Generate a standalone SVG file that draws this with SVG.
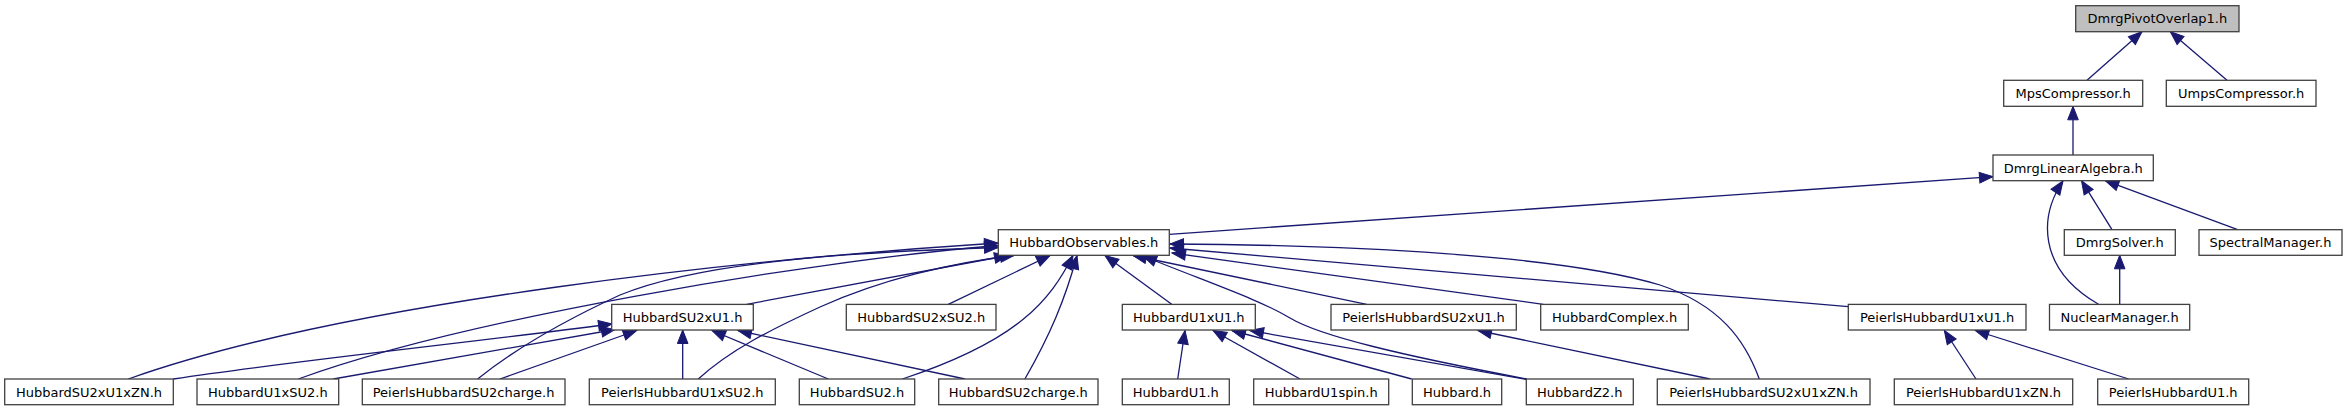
<svg xmlns="http://www.w3.org/2000/svg" width="2347" height="411" viewBox="0 0 2347 411">
<style>
.node rect{fill:#ffffff;stroke:#404040;stroke-width:1.3}
.node.root rect{fill:#bfbfbf}
.node text{font-family:"DejaVu Sans","Liberation Sans",sans-serif;font-size:13px;fill:#000000;text-anchor:middle}
.edges path{fill:none;stroke:#191970;stroke-width:1.3;marker-end:url(#arr)}
</style>
<defs>
<marker id="arr" markerUnits="userSpaceOnUse" viewBox="-14 -6 15 12" refX="0" refY="0" markerWidth="15" markerHeight="12" orient="auto" overflow="visible">
<polygon points="-13.5,-5.3 0,0 -13.5,5.3" fill="#191970" stroke="#191970" stroke-width="1"/>
</marker>
</defs>
<rect width="2347" height="411" fill="#ffffff"/>
<g class="edges">
<path d="M2087,80.3 L2142,31.7"/>
<path d="M2227,80.3 L2170.3,31.7"/>
<path d="M2073,155 L2073,106.3"/>
<path d="M1169.3,234.3 L1993,176.7"/>
<path d="M2112,229.7 L2081.5,180.7"/>
<path d="M2237.7,229.7 L2105.3,180.7"/>
<path d="M2098.5,304.3 C2036,268 2040,215 2063,181"/>
<path d="M2119.7,304.3 L2119.7,255.3"/>
<path d="M128.3,379 C350,300 760,258 998,243"/>
<path d="M298.3,379 C460,320 800,262 998,245.5"/>
<path d="M477.6,379 C520,345 570,318 620,295 C700,262 850,252 998,247.5"/>
<path d="M746.7,304.3 L1008,255.5"/>
<path d="M698.3,379 C730,350 770,330 820,307 C880,280 950,263 1014,255.5"/>
<path d="M948.3,304.3 L1050,255.5"/>
<path d="M902.4,379 C1020,340 1050,300 1073,255.5"/>
<path d="M1024.9,379 C1050,335 1065,300 1077,255.5"/>
<path d="M1171.7,304.3 L1105,255.5"/>
<path d="M1526.7,379 C1400,355 1320,336 1290,318 C1260,300 1215,285 1143,256"/>
<path d="M1366.7,304.3 L1133,255.5"/>
<path d="M1543.3,304.3 L1172,253"/>
<path d="M1759.3,379 C1745,340 1720,305 1660,285 C1560,255 1350,245 1170,244"/>
<path d="M1848.3,306.7 L1170,248"/>
<path d="M173.3,379 C300,360 450,345 612,324"/>
<path d="M333.3,379 L615,329.5"/>
<path d="M500,379 L636.7,330.5"/>
<path d="M682.7,379 L682.7,330"/>
<path d="M828.3,379 L712,330.5"/>
<path d="M965,379 L738,330.5"/>
<path d="M1177.7,379 L1185,330.5"/>
<path d="M1300,379 L1213,330.5"/>
<path d="M1411.7,379 L1232,330.5"/>
<path d="M1526.7,379.5 L1250,330.5"/>
<path d="M1710,379 L1478,330.5"/>
<path d="M1976,379 L1944.3,330.5"/>
<path d="M2128.7,379 L1975.3,330.5"/>
</g>
<g id="n_DmrgPivotOverlap1" class="node root"><rect x="2075.7" y="5.7" width="163.3" height="26"/><text x="2157.4" y="23.3">DmrgPivotOverlap1.h</text></g>
<g id="n_MpsCompressor" class="node"><rect x="2003.7" y="80.3" width="139" height="26"/><text x="2073.2" y="97.9">MpsCompressor.h</text></g>
<g id="n_UmpsCompressor" class="node"><rect x="2166.3" y="80.3" width="149.7" height="26"/><text x="2241.2" y="97.9">UmpsCompressor.h</text></g>
<g id="n_DmrgLinearAlgebra" class="node"><rect x="1993" y="155" width="160.3" height="25.7"/><text x="2073.2" y="172.5">DmrgLinearAlgebra.h</text></g>
<g id="n_HubbardObservables" class="node"><rect x="998.3" y="229.7" width="171" height="25.6"/><text x="1083.8" y="247.2">HubbardObservables.h</text></g>
<g id="n_DmrgSolver" class="node"><rect x="2064.3" y="229.7" width="111" height="25.6"/><text x="2119.8" y="247.2">DmrgSolver.h</text></g>
<g id="n_SpectralManager" class="node"><rect x="2199" y="229.7" width="143" height="25.6"/><text x="2270.5" y="247.2">SpectralManager.h</text></g>
<g id="n_HubbardSU2xU1" class="node"><rect x="611.7" y="304.4" width="141.6" height="25.6"/><text x="682.5" y="321.9">HubbardSU2xU1.h</text></g>
<g id="n_HubbardSU2xSU2" class="node"><rect x="846.3" y="304.4" width="149.7" height="25.6"/><text x="921.2" y="321.9">HubbardSU2xSU2.h</text></g>
<g id="n_HubbardU1xU1" class="node"><rect x="1122.3" y="304.4" width="133" height="25.6"/><text x="1188.8" y="321.9">HubbardU1xU1.h</text></g>
<g id="n_PeierlsHubbardSU2xU1" class="node"><rect x="1331" y="304.4" width="185.3" height="25.6"/><text x="1423.6" y="321.9">PeierlsHubbardSU2xU1.h</text></g>
<g id="n_HubbardComplex" class="node"><rect x="1540.7" y="304.4" width="147.6" height="25.6"/><text x="1614.5" y="321.9">HubbardComplex.h</text></g>
<g id="n_PeierlsHubbardU1xU1" class="node"><rect x="1848.3" y="304.4" width="177.7" height="25.6"/><text x="1937.1" y="321.9">PeierlsHubbardU1xU1.h</text></g>
<g id="n_NuclearManager" class="node"><rect x="2049.5" y="304.4" width="140.2" height="25.6"/><text x="2119.6" y="321.9">NuclearManager.h</text></g>
<g id="n_HubbardSU2xU1xZN" class="node"><rect x="4.7" y="379" width="168.6" height="25.7"/><text x="89" y="396.5">HubbardSU2xU1xZN.h</text></g>
<g id="n_HubbardU1xSU2" class="node"><rect x="197" y="379" width="141.7" height="25.7"/><text x="267.8" y="396.5">HubbardU1xSU2.h</text></g>
<g id="n_PeierlsHubbardSU2charge" class="node"><rect x="362.3" y="379" width="202.7" height="25.7"/><text x="463.6" y="396.5">PeierlsHubbardSU2charge.h</text></g>
<g id="n_PeierlsHubbardU1xSU2" class="node"><rect x="589.3" y="379" width="186" height="25.7"/><text x="682.3" y="396.5">PeierlsHubbardU1xSU2.h</text></g>
<g id="n_HubbardSU2" class="node"><rect x="799.3" y="379" width="115.4" height="25.7"/><text x="857" y="396.5">HubbardSU2.h</text></g>
<g id="n_HubbardSU2charge" class="node"><rect x="938.7" y="379" width="159.3" height="25.7"/><text x="1018.3" y="396.5">HubbardSU2charge.h</text></g>
<g id="n_HubbardU1" class="node"><rect x="1122.3" y="379" width="107" height="25.7"/><text x="1175.8" y="396.5">HubbardU1.h</text></g>
<g id="n_HubbardU1spin" class="node"><rect x="1253.7" y="379" width="135" height="25.7"/><text x="1321.2" y="396.5">HubbardU1spin.h</text></g>
<g id="n_Hubbard" class="node"><rect x="1412.3" y="379" width="89.4" height="25.7"/><text x="1457" y="396.5">Hubbard.h</text></g>
<g id="n_HubbardZ2" class="node"><rect x="1526.3" y="379" width="107" height="25.7"/><text x="1579.8" y="396.5">HubbardZ2.h</text></g>
<g id="n_PeierlsHubbardSU2xU1xZN" class="node"><rect x="1657.3" y="379" width="212.7" height="25.7"/><text x="1763.6" y="396.5">PeierlsHubbardSU2xU1xZN.h</text></g>
<g id="n_PeierlsHubbardU1xZN" class="node"><rect x="1894.3" y="379" width="178.4" height="25.7"/><text x="1983.5" y="396.5">PeierlsHubbardU1xZN.h</text></g>
<g id="n_PeierlsHubbardU1" class="node"><rect x="2097.7" y="379" width="151" height="25.7"/><text x="2173.2" y="396.5">PeierlsHubbardU1.h</text></g>
</svg>
